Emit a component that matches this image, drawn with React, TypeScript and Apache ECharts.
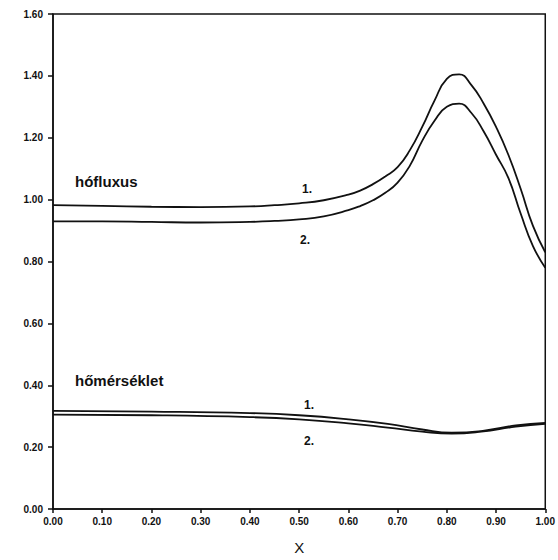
import React, { useEffect, useRef } from "react";
import * as echarts from "echarts";

// hőfluxus curves
const fluxX = [0, 0.1, 0.2, 0.3, 0.4, 0.45, 0.5, 0.55, 0.6, 0.625, 0.65, 0.675, 0.7, 0.725, 0.75, 0.775, 0.8, 0.825, 0.85, 0.875, 0.9, 0.925, 0.95, 0.975, 1.0];
const flux1 = [0.982, 0.98, 0.977, 0.976, 0.978, 0.982, 0.988, 0.998, 1.016, 1.03, 1.05, 1.075, 1.105, 1.16, 1.235, 1.32, 1.39, 1.405, 1.37, 1.31, 1.235, 1.145, 1.035, 0.915, 0.83];
const flux2 = [0.93, 0.93, 0.928, 0.926, 0.928, 0.931, 0.936, 0.946, 0.966, 0.98, 0.998, 1.022, 1.055, 1.11, 1.19, 1.255, 1.3, 1.31, 1.28, 1.22, 1.145, 1.07, 0.955, 0.85, 0.78];

// hőmérséklet curves
const tempX = [0, 0.2, 0.4, 0.5, 0.6, 0.68, 0.75, 0.81, 0.87, 0.94, 1.0];
const temp1 = [0.317, 0.315, 0.31, 0.303, 0.29, 0.275, 0.257, 0.247, 0.252, 0.27, 0.278];
const temp2 = [0.305, 0.303, 0.297, 0.29, 0.277, 0.263, 0.25, 0.244, 0.25, 0.266, 0.275];

const xTicks = [0, 0.1, 0.2, 0.3, 0.4, 0.5, 0.6, 0.7, 0.8, 0.9, 1.0];
const yTicks = [0, 0.2, 0.4, 0.6, 0.8, 1.0, 1.2, 1.4, 1.6];

const labels = [
  { text: "hófluxus", x: 75, y: 181, size: 15 },
  { text: "1.", x: 302, y: 189, size: 12 },
  { text: "2.", x: 300, y: 240, size: 12 },
  { text: "hőmérséklet", x: 75, y: 380, size: 15 },
  { text: "1.", x: 304, y: 405, size: 12 },
  { text: "2.", x: 304, y: 441, size: 12 },
];

const pair = (xs: number[], ys: number[]) => xs.map((x, i) => [x, ys[i]]);

export default function App() {
  const ref = useRef<HTMLDivElement>(null);
  useEffect(() => {
    if (!ref.current) return;
    const chart = echarts.init(ref.current, undefined, { renderer: "svg" });
    const font = "'Liberation Sans', Arial, sans-serif";
    const lineStyle = { color: "#111", width: 1.8 };
    const mk = (name: string, d: number[][]) => ({
      name,
      type: "line",
      data: d,
      smooth: true,
      showSymbol: false,
      lineStyle,
      z: 3,
    });
    chart.setOption({
      animation: false,
      backgroundColor: "#fff",
      grid: {
        left: 53,
        right: 5,
        top: 14,
        bottom: 43,
        show: true,
        borderColor: "#111",
        borderWidth: 1.5,
        backgroundColor: "transparent",
      },
      xAxis: {
        type: "value",
        min: xTicks[0],
        max: xTicks[xTicks.length - 1],
        interval: 0.1,
        name: "X",
        nameLocation: "middle",
        nameGap: 31,
        nameTextStyle: { fontFamily: font, fontSize: 15, color: "#111" },
        axisLine: { show: true, lineStyle: { color: "#111", width: 1.5 } },
        axisTick: { show: true, length: 4, lineStyle: { color: "#111", width: 1.5 } },
        axisLabel: {
          formatter: (v: number) => v.toFixed(2),
          fontFamily: font,
          fontSize: 10,
          fontWeight: "bold",
          color: "#111",
          margin: 7,
        },
        splitLine: { show: false },
      },
      yAxis: {
        type: "value",
        min: yTicks[0],
        max: yTicks[yTicks.length - 1],
        interval: 0.2,
        axisLine: { show: true, lineStyle: { color: "#111", width: 1.5 } },
        axisTick: { show: true, length: 5, lineStyle: { color: "#111", width: 1.5 } },
        axisLabel: {
          formatter: (v: number) => v.toFixed(2),
          fontFamily: font,
          fontSize: 10,
          fontWeight: "bold",
          color: "#111",
          margin: 10,
        },
        splitLine: { show: false },
      },
      series: [
        mk("hőfluxus 1", pair(fluxX, flux1)),
        mk("hőfluxus 2", pair(fluxX, flux2)),
        mk("hőmérséklet 1", pair(tempX, temp1)),
        mk("hőmérséklet 2", pair(tempX, temp2)),
      ],
      graphic: labels.map((l) => ({
        type: "text",
        x: l.x,
        y: l.y,
        style: {
          text: l.text,
          fontFamily: font,
          fontSize: l.size,
          fontWeight: "bold",
          fill: "#111",
          verticalAlign: "middle",
        },
        z: 10,
      })),
    });
    return () => chart.dispose();
  }, []);
  return <div ref={ref} style={{ width: 558, height: 560, position: "absolute", left: 0, top: 0 }} />;
}
